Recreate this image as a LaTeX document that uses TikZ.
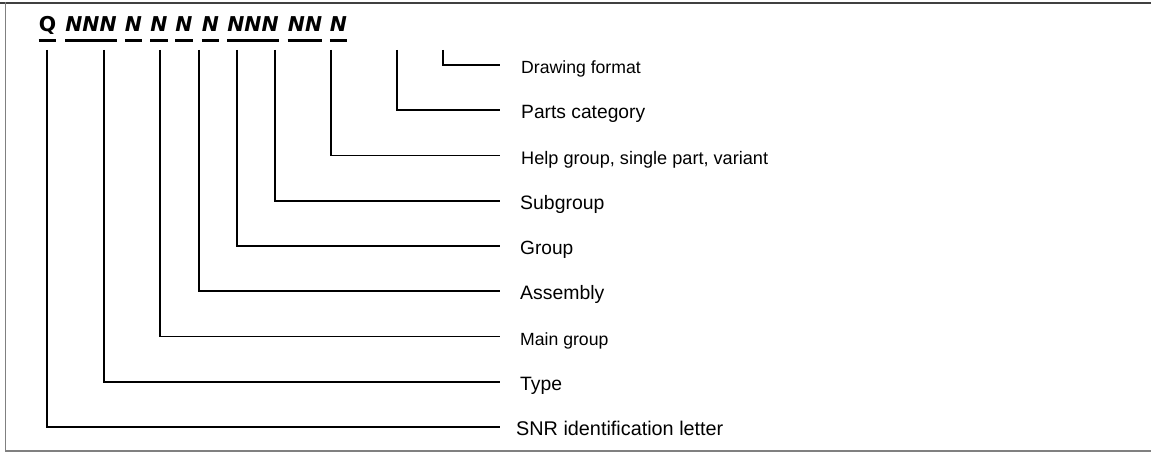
\documentclass[tikz,border=0pt]{standalone}
\usepackage{fontspec}
\setmainfont{Liberation Sans}
\newfontfamily\codefont{DejaVu Sans}[BoldFont={DejaVu Sans Bold}, BoldItalicFont={DejaVu Sans Bold Oblique}, ItalicFont={DejaVu Sans Oblique}]
\newcommand{\lsz}[1]{\fontsize{#1}{#1}\selectfont}
\begin{document}
\begin{tikzpicture}[x=1bp,y=-1bp,
  conn/.style={line width=1.8bp, line join=miter},
  lbl/.style={anchor=west, inner sep=0pt, text height=13.5bp, text depth=0pt},
  code/.style={anchor=base, inner sep=0pt, text depth=0pt, font=\codefont\bfseries\itshape\lsz{20.5}},
  codeup/.style={code, font=\codefont\bfseries\upshape\lsz{20.5}},
  uline/.style={line width=3.2bp}
]
\useasboundingbox (0,0) rectangle (1151,452);
% frame
\draw[line width=2bp, black!75] (0,2.7) -- (1151,2.7);
\draw[line width=1bp, black!50] (5.5,2) -- (5.5,451);
\draw[line width=1.2bp, black!50] (5,451) -- (1151,451);

% code groups
\node[codeup] (g1) at (47.5,32) {Q};
\node[code] (g2) at (91,32) {NNN};
\node[code] (g3) at (133.5,32) {N};
\node[code] (g4) at (159,32) {N};
\node[code] (g5) at (184,32) {N};
\node[code] (g6) at (210.5,32) {N};
\node[code] (g7) at (253,32) {NNN};
\node[code] (g8) at (305,32) {NN};
\node[code] (g9) at (338.5,32) {N};
\foreach \g in {g1,g2,g3,g4,g5,g6,g7,g8,g9}
  \draw[uline] ([yshift=-8bp]\g.south west) -- ([yshift=-8bp]\g.south east);

% connector tops
\coordinate (t1) at (47,50);
\coordinate (t2) at (104,50);
\coordinate (t3) at (160,50);
\coordinate (t4) at (199,50);
\coordinate (t5) at (237,50);
\coordinate (t6) at (275,50);
\coordinate (t7) at (331,50);
\coordinate (t8) at (397,50);
\coordinate (t9) at (443,50);

% labels
\node[lbl, font=\lsz{17.7}] (l9) at (521,67) {Drawing format};
\node[lbl, font=\lsz{19.3}] (l8) at (521,112.25) {Parts category};
\node[lbl, font=\lsz{18.2}] (l7) at (521,157.5) {Help group, single part, variant};
\node[lbl, font=\lsz{19.5}] (l6) at (520,202.75) {Subgroup};
\node[lbl, font=\lsz{19.2}] (l5) at (520,248) {Group};
\node[lbl, font=\lsz{19.5}] (l4) at (520,293.25) {Assembly};
\node[lbl, font=\lsz{17.7}] (l3) at (520,338.5) {Main group};
\node[lbl, font=\lsz{19.4}] (l2) at (520,383.75) {Type};
\node[lbl, font=\lsz{19.9}] (l1) at (516,429) {SNR identification letter};

% connectors
\foreach \i/\gap in {1/16,2/20,3/20,4/20,5/20,6/20,7/21,8/21,9/21}
  \draw[conn] (t\i) |- ([xshift=-\gap bp, yshift=2bp]l\i.west);
\end{tikzpicture}
\end{document}
